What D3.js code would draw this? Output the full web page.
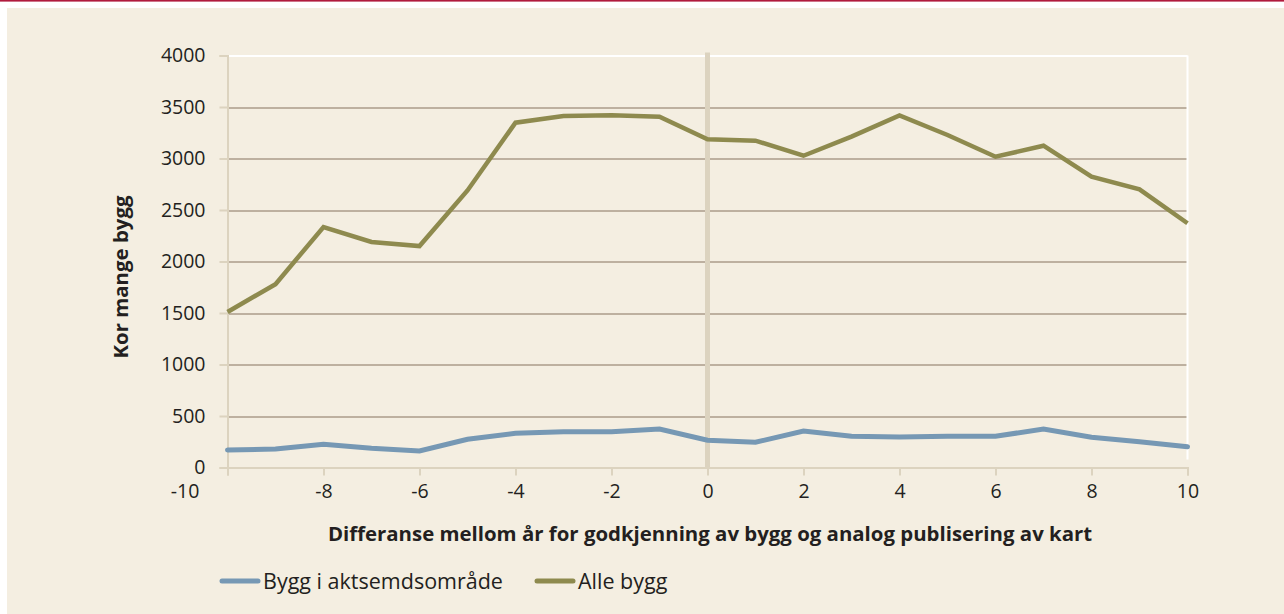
<!DOCTYPE html>
<html>
<head>
<meta charset="utf-8">
<script src="https://cdn.jsdelivr.net/npm/d3@7"></script>
<style>
  body { margin: 0; background: #ffffff; }
  svg { display: block; }
  text { font-family: "Open Sans", "Noto Sans", sans-serif; fill: #231f20; }
</style>
</head>
<body>
<svg id="chart"></svg>
<script>
// years between approval and map publishing
var years = [-10,-9,-8,-7,-6,-5,-4,-3,-2,-1,0,1,2,3,4,5,6,7,8,9,10];
// buildings in hazard zone
var aktsemd = [170,180,225,186,160,274,332,348,348,374,264,245,354,303,296,303,303,374,293,250,202];
// all buildings
var alle = [1510,1780,2335,2190,2150,2690,3348,3413,3419,3406,3186,3173,3027,3212,3419,3228,3017,3124,2823,2701,2371];
var yTicks = [0,500,1000,1500,2000,2500,3000,3500,4000];
var xTicks = [-10,-8,-6,-4,-2,0,2,4,6,8,10];
var seriesNames = ["Bygg i aktsemdsområde","Alle bygg"];

var screen = {width:1284, height:614};
var margins = {top:55.5, left:227.5, right:96.5, bottom:146.5};
var graph = {
    width:screen.width-margins.left-margins.right,
    height:screen.height-margins.top-margins.bottom
};

var svg = d3.select("#chart")
    .attr("width",screen.width)
    .attr("height",screen.height);

// page background with red rule on top
svg.append("rect").attr("x",0).attr("y",0).attr("width",screen.width).attr("height",screen.height).attr("fill","#ffffff");
svg.append("rect").attr("x",7).attr("y",8).attr("width",screen.width-7).attr("height",screen.height-8).attr("fill","#f4eee1");
svg.append("rect").attr("x",0).attr("y",0).attr("width",screen.width).attr("height",1.6).attr("fill","#b01a3d");

var xScale = d3.scaleLinear().domain([-10,10]).range([0,graph.width]);
var yScale = d3.scaleLinear().domain([0,4000]).range([graph.height,0]);

var g = svg.append("g")
    .attr("transform","translate("+margins.left+","+margins.top+")");

// gridlines
g.selectAll(".grid")
    .data(yTicks.filter(function(d){return d>0;}))
    .enter()
    .append("line")
    .attr("x1",0)
    .attr("x2",graph.width)
    .attr("y1",function(d){return Math.round(yScale(d))+0.5;})
    .attr("y2",function(d){return Math.round(yScale(d))+0.5;})
    .attr("stroke",function(d){return d==4000 ? "#ffffff" : "#86725f";})
    .attr("stroke-width",function(d){return d==4000 ? 2 : 1;});

// right white border
g.append("line")
    .attr("x1",graph.width).attr("x2",graph.width)
    .attr("y1",yScale(4000)).attr("y2",graph.height-8)
    .attr("stroke","#ffffff").attr("stroke-width",2);

// vertical marker at 0
g.append("line")
    .attr("x1",xScale(0)).attr("x2",xScale(0))
    .attr("y1",yScale(4000)-3).attr("y2",graph.height)
    .attr("stroke","#dcd3bf").attr("stroke-width",5);

var plain = function(d){return String(d);};

// y axis
var yAxis = d3.axisLeft(yScale).tickValues(yTicks).tickSize(8).tickPadding(14).tickFormat(plain);
var ya = g.append("g").call(yAxis);
ya.select(".domain").attr("stroke","#dcd3bf").attr("stroke-width",2);
ya.selectAll(".tick line").attr("stroke","#dcd3bf").attr("stroke-width",2);
ya.selectAll(".tick text").attr("font-size",19.5).attr("fill","#231f20")
    .attr("font-family","'Open Sans', 'Noto Sans', sans-serif");

// x axis
var xAxis = d3.axisBottom(xScale).tickValues(xTicks).tickSize(8).tickPadding(9).tickFormat(plain);
var xa = g.append("g").attr("transform","translate(0,"+graph.height+")").call(xAxis);
xa.select(".domain").attr("stroke","#dcd3bf").attr("stroke-width",2);
xa.selectAll(".tick line").attr("stroke","#dcd3bf").attr("stroke-width",2);
xa.selectAll(".tick text").attr("font-size",19.5).attr("fill","#231f20")
    .attr("font-family","'Open Sans', 'Noto Sans', sans-serif");
// the -10 label sits left of the y axis
xa.selectAll(".tick text").filter(function(d){return d==-10;}).attr("dx",-43);

// lines
var line = function(values)
{
    return d3.line()
        .x(function(d,i){return xScale(years[i]);})
        .y(function(d){return yScale(d);})(values);
}
g.append("path").attr("d",line(alle)).attr("fill","none")
    .attr("stroke","#8e8a4e").attr("stroke-width",4.5).attr("stroke-linejoin","miter");
g.append("path").attr("d",line(aktsemd)).attr("fill","none")
    .attr("stroke","#7698b4").attr("stroke-width",5).attr("stroke-linecap","round");

// axis titles
svg.append("text")
    .attr("x",710)
    .attr("y",541)
    .attr("text-anchor","middle")
    .attr("font-size",20.4)
    .attr("font-weight","bold")
    .text("Differanse mellom år for godkjenning av bygg og analog publisering av kart");

svg.append("text")
    .attr("transform","translate(128,277) rotate(-90)")
    .attr("text-anchor","middle")
    .attr("font-size",20.4)
    .attr("font-weight","bold")
    .text("Kor mange bygg");

// legend
var legendData = [
    {name:seriesNames[0], color:"#7698b4", x:222},
    {name:seriesNames[1], color:"#8e8a4e", x:537}
];
var leg = svg.selectAll(".legend").data(legendData).enter().append("g")
    .attr("transform",function(d){return "translate("+d.x+",581)";});
leg.append("line").attr("x1",0).attr("x2",36).attr("y1",0).attr("y2",0)
    .attr("stroke",function(d){return d.color;}).attr("stroke-width",5).attr("stroke-linecap","round");
leg.append("text").attr("x",41).attr("y",7.5).attr("font-size",21.5)
    .text(function(d){return d.name;});
</script>
</body>
</html>
